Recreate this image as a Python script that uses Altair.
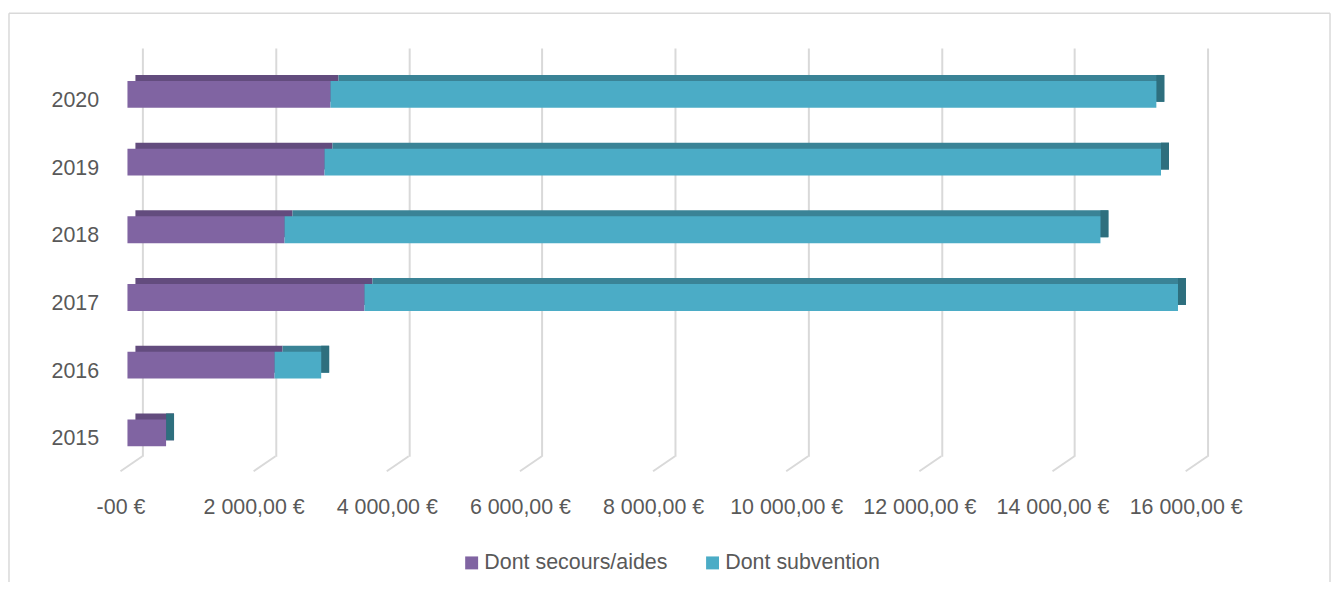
import altair as alt
import pandas as pd

# ---- data ----
years = ["2015", "2016", "2017", "2018", "2019", "2020"]
secours = [580, 2210, 3560, 2360, 2960, 3050]          # Dont secours/aides
subvention = [0, 700, 12220, 12255, 12565, 12405]      # Dont subvention
series = ["Dont secours/aides", "Dont subvention"]
tick_values = [0, 2000, 4000, 6000, 8000, 10000, 12000, 14000, 16000]

rows = []
for i, yr in enumerate(years):
    rows.append({"year": yr, "serie": series[0], "order": 0, "value": secours[i]})
    rows.append({"year": yr, "serie": series[1], "order": 1, "value": subvention[i]})
df = pd.DataFrame(rows)
ticks_df = pd.DataFrame({"t": tick_values})

FRONT = ["#8064A2", "#4BACC6"]
TOP = ["#634C7E", "#3A8396"]
SIDE = "#2E6F7E"
GRID = "#D9D9D9"
TXT = "#595959"
FONT = "Liberation Sans"
FS = 21.5

W, H = 1070, 410
DX, DY = 8, -6       # 3D depth offsets
FRONT_SHIFT = -15    # front face sits in front of the grid wall

xscale = alt.Scale(domain=[0, 16000], nice=False, zero=True)
xaxis = alt.Axis(
    values=tick_values, grid=True, gridColor=GRID, gridWidth=2,
    domain=False, ticks=False, labelPadding=40, labelOffset=-22,
    labelExpr="datum.value == 0 ? '-00 €' : format(datum.value / 1000, 'd') + ' 000,00 €'",
    labelFontSize=FS, labelFont=FONT, labelColor=TXT,
    labelFlush=False, labelOverlap=False, title=None,
)
yscale = alt.Scale(paddingInner=0.603, paddingOuter=0.316, align=0.767)
yaxis = alt.Axis(
    grid=False, domain=False, ticks=False, labelPadding=44, labelOffset=6.5,
    labelFontSize=FS, labelFont=FONT, labelColor=TXT, title=None,
)
y_enc = alt.Y("year:N", sort=years[::-1], scale=yscale, axis=yaxis, title=None)

base = alt.Chart(df)

# diagonal floor lines of the 3D grid
diag = alt.Chart(ticks_df).mark_rule(color=GRID, strokeWidth=2, x2Offset=-22).encode(
    x=alt.X("t:Q", scale=xscale, axis=xaxis, title=None),
    x2="t:Q",
    y=alt.value(H),
    y2=alt.value(H + 15),
)

# outer frame (decoration)
frame_src = alt.Data(values=[{"k": 1}])
frame_left = alt.Chart(frame_src).mark_rule(color=GRID, strokeWidth=1.5).encode(
    x=alt.value(-134), y=alt.value(-35), y2=alt.value(H + 130))
frame_top = alt.Chart(frame_src).mark_rule(color=GRID, strokeWidth=1.5).encode(
    x=alt.value(-134), x2=alt.value(1193), y=alt.value(-35))
frame_right = alt.Chart(frame_src).mark_rule(color=GRID, strokeWidth=1.5).encode(
    x=alt.value(1193), y=alt.value(-35), y2=alt.value(H + 130))

# top faces
top = base.mark_bar(
    xOffset=FRONT_SHIFT + DX, x2Offset=FRONT_SHIFT + DX, yOffset=DY, y2Offset=DY
).encode(
    x=alt.X("value:Q", stack="zero", scale=xscale, axis=xaxis, title=None),
    y=y_enc,
    color=alt.Color("serie:N", scale=alt.Scale(domain=series, range=TOP), legend=None),
    order=alt.Order("order:Q"),
)

# right side faces
side = base.transform_aggregate(total="sum(value)", groupby=["year"]).mark_bar(
    color=SIDE, xOffset=FRONT_SHIFT, x2Offset=FRONT_SHIFT + DX, yOffset=DY, y2Offset=DY
).encode(
    x=alt.X("total:Q", scale=xscale, axis=xaxis, title=None),
    x2="total:Q",
    y=y_enc,
)

# front faces
front = base.mark_bar(xOffset=FRONT_SHIFT, x2Offset=FRONT_SHIFT).encode(
    x=alt.X("value:Q", stack="zero", scale=xscale, axis=xaxis, title=None),
    y=y_enc,
    color=alt.Color(
        "serie:N",
        scale=alt.Scale(domain=series, range=FRONT),
        legend=alt.Legend(
            orient="none", legendX=320, legendY=506, direction="horizontal",
            title=None, symbolType="square", symbolSize=169, symbolStrokeWidth=0,
            symbolOpacity=1, labelFontSize=FS, labelFont=FONT, labelColor=TXT,
            labelOffset=2, columnPadding=34, labelLimit=400,
        ),
    ),
    order=alt.Order("order:Q"),
)

chart = alt.layer(diag, frame_left, frame_top, frame_right, top, side, front).resolve_scale(
    color="independent"
).properties(
    width=W, height=H, autosize="none",
    padding={"left": 135, "top": 39, "right": 125, "bottom": 125},
).configure_view(stroke=None)

chart.save("out.html", embed_options={"renderer": "svg", "actions": False})
